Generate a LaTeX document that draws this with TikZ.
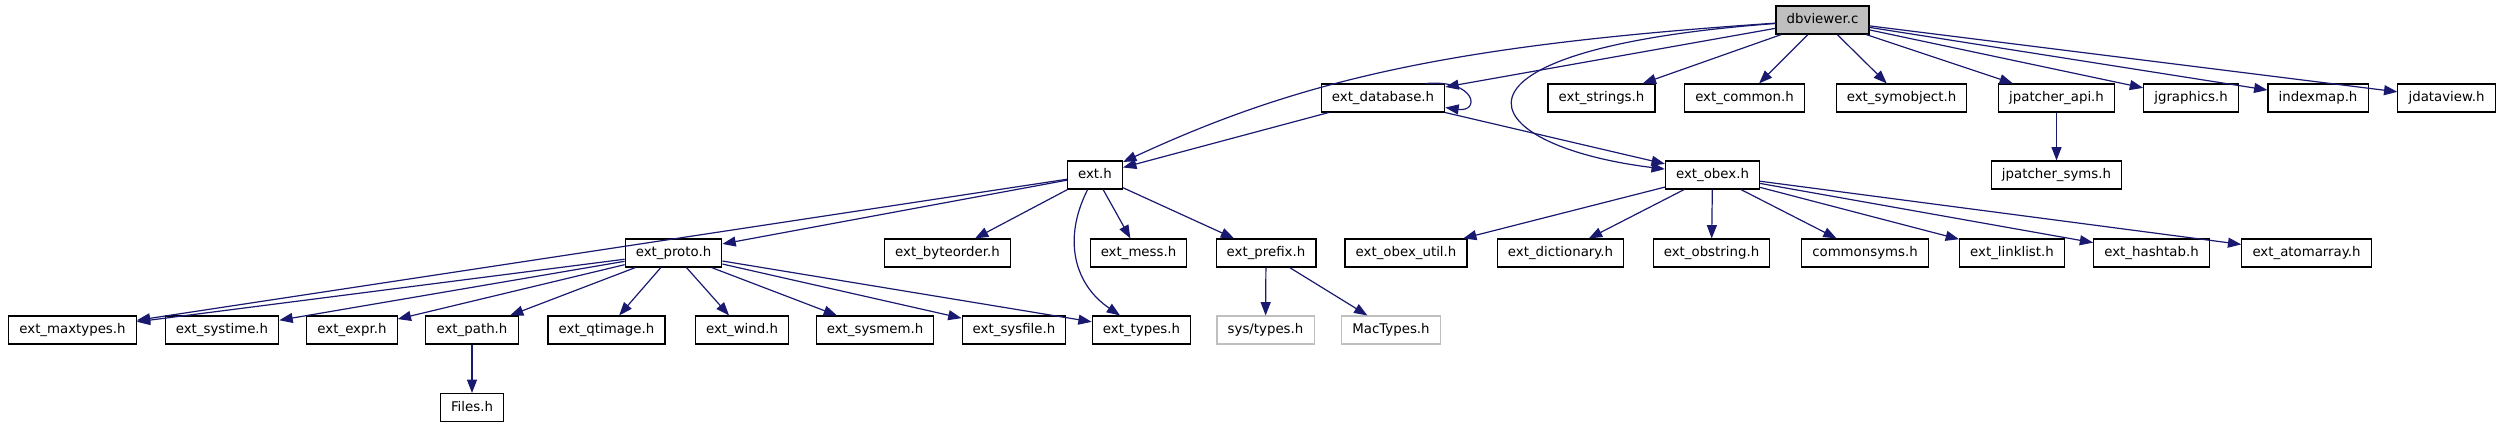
\documentclass[tikz,border=0pt]{standalone}
\usepackage{fontspec}
\setmainfont{DejaVu Sans}
\usetikzlibrary{arrows.meta,calc}
\definecolor{incblue}{HTML}{191970}
\definecolor{boxgray}{HTML}{BFBFBF}

\begin{document}
\begin{tikzpicture}[x=0.75pt,y=-0.75pt,
		file/.style={draw=black,line width=0.8pt,fill=white,inner xsep=8pt,inner ysep=0pt,
			minimum height=21pt,text height=7.5pt,text depth=2pt,font=\fontsize{10}{12}\selectfont},
		sysfile/.style={file,draw=boxgray},
		mainfile/.style={file,fill=boxgray},
		inc/.style={incblue,line width=0.9pt,-{Triangle[length=10pt,width=7.5pt]}}]
				\useasboundingbox (0,0) rectangle (2504,427);
				\node[mainfile] (db) at (1822.5,20) {dbviewer.c};
				\node[file] (database) at (1383,98) {ext\_database.h};
				\node[file] (strings) at (1601.5,98) {ext\_strings.h};
				\node[file] (common) at (1744.5,98) {ext\_common.h};
				\node[file] (symobject) at (1901.5,98) {ext\_symobject.h};
				\node[file] (patcherapi) at (2056.5,98) {jpatcher\_api.h};
				\node[file] (jgraphics) at (2191,98) {jgraphics.h};
				\node[file] (indexmap) at (2318,98) {indexmap.h};
				\node[file] (jdataview) at (2446.5,98) {jdataview.h};
				\node[file] (ext) at (1095,175) {ext.h};
				\node[file] (obex) at (1712.5,175) {ext\_obex.h};
				\node[file] (patchersyms) at (2056.5,175) {jpatcher\_syms.h};
				\node[file] (proto) at (673.5,253) {ext\_proto.h};
				\node[file] (byteorder) at (947.5,253) {ext\_byteorder.h};
				\node[file] (mess) at (1138.5,253) {ext\_mess.h};
				\node[file] (prefix) at (1266,253) {ext\_prefix.h};
				\node[file] (obexutil) at (1406,253) {ext\_obex\_util.h};
				\node[file] (dictionary) at (1560.5,253) {ext\_dictionary.h};
				\node[file] (obstring) at (1711.5,253) {ext\_obstring.h};
				\node[file] (commonsyms) at (1865,253) {commonsyms.h};
				\node[file] (linklist) at (2012,253) {ext\_linklist.h};
				\node[file] (hashtab) at (2151.5,253) {ext\_hashtab.h};
				\node[file] (atomarray) at (2306.5,253) {ext\_atomarray.h};
				\node[file] (maxtypes) at (72.5,330) {ext\_maxtypes.h};
				\node[file] (systime) at (222,330) {ext\_systime.h};
				\node[file] (expr) at (352,330) {ext\_expr.h};
				\node[file] (path) at (472,330) {ext\_path.h};
				\node[file] (qtimage) at (606.5,330) {ext\_qtimage.h};
				\node[file] (wind) at (742,330) {ext\_wind.h};
				\node[file] (sysmem) at (875,330) {ext\_sysmem.h};
				\node[file] (sysfile) at (1014,330) {ext\_sysfile.h};
				\node[file] (types) at (1141.5,330) {ext\_types.h};
				\node[sysfile] (systypes) at (1265.5,330) {sys/types.h};
				\node[sysfile] (mactypes) at (1391,330) {MacTypes.h};
				\node[file] (files) at (472,407.5) {Files.h};
				\draw[inc] (db) .. controls (1450,45) and (1300,80) .. (ext);
				\draw[inc] (db) .. controls (1420,50) and (1470,145) .. (obex);
				\foreach \t in {database,strings,common,symobject,patcherapi,jgraphics,indexmap,jdataview}
					\draw[inc] (db) -- (\t);
				\draw[inc] ($(database.north east)+(-19,0)$) .. controls +(50,-4) and +(35,5) .. ($(database.south east)+(0,-5)$);
				\draw[inc] (database) -- (ext);
				\draw[inc] (database) -- (obex);
				\draw[inc] (patcherapi) -- (patchersyms);
				\foreach \t in {maxtypes,proto,byteorder,mess,prefix}
					\draw[inc] (ext) -- (\t);
				\draw[inc] (ext) .. controls (1062,240) and (1075,285) .. (types);
				\foreach \t in {maxtypes,systime,expr,path,qtimage,wind,sysmem,sysfile,types}
					\draw[inc] (proto) -- (\t);
				\draw[inc] (path) -- (files);
				\draw[inc] (prefix) -- (systypes);
				\draw[inc] (prefix) -- (mactypes);
				\foreach \t in {obexutil,dictionary,obstring,commonsyms,linklist,hashtab,atomarray}
					\draw[inc] (obex) -- (\t);
			\end{tikzpicture}
\end{document}
